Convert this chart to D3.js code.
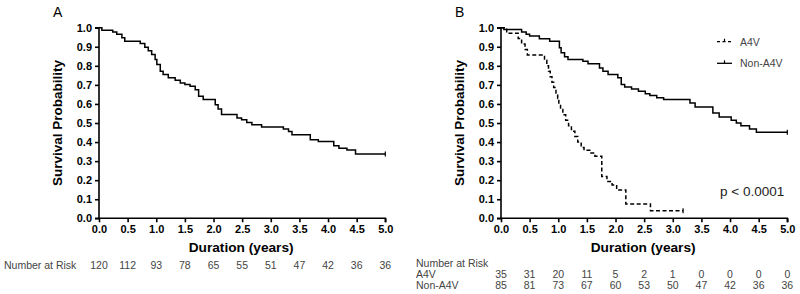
<!DOCTYPE html>
<html>
<head>
<meta charset="utf-8">
<script src="https://cdn.jsdelivr.net/npm/d3@7"></script>
<style>
  body { margin: 0; background: #fff; }
  svg { font-family: Arial, 'Liberation Sans', sans-serif; }
  .axis text { font-size: 11px; font-weight: bold; fill: #000; }
  .axis path, .axis line { stroke: #000; stroke-width: 1.6; }
  .risk { font-size: 10.5px; fill: #444; }
</style>
</head>
<body>
<svg id="chart"></svg>
<script>
const yearTicks = [0, 0.5, 1, 1.5, 2, 2.5, 3, 3.5, 4, 4.5, 5];
const probTicks = [0, 0.1, 0.2, 0.3, 0.4, 0.5, 0.6, 0.7, 0.8, 0.9, 1.0];

// panel A: all patients
const allTimes = [0, 0.05, 0.24, 0.31, 0.40, 0.45, 0.72, 0.80, 0.86, 0.92, 0.98, 1.01, 1.07, 1.12, 1.21, 1.33, 1.42, 1.50, 1.59, 1.68, 1.74, 1.82, 2.03, 2.08, 2.14, 2.41, 2.49, 2.58, 2.67, 2.84, 3.22, 3.31, 3.37, 3.69, 3.83, 4.10, 4.19, 4.33, 4.48, 5.0];
const allSurv = [1, 0.987, 0.977, 0.965, 0.947, 0.929, 0.917, 0.898, 0.879, 0.86, 0.833, 0.807, 0.772, 0.754, 0.737, 0.724, 0.71, 0.702, 0.693, 0.675, 0.64, 0.623, 0.596, 0.574, 0.544, 0.526, 0.517, 0.503, 0.491, 0.479, 0.468, 0.456, 0.438, 0.412, 0.403, 0.38, 0.368, 0.359, 0.338, 0.338];
const allRisk = [120, 112, 93, 78, 65, 55, 51, 47, 42, 36, 36];

// panel B: A4V vs non-A4V
const a4vTimes = [0, 0.10, 0.30, 0.36, 0.42, 0.46, 0.76, 0.80, 0.83, 0.86, 0.89, 0.92, 0.96, 0.99, 1.01, 1.04, 1.08, 1.13, 1.18, 1.23, 1.29, 1.34, 1.40, 1.45, 1.55, 1.64, 1.76, 1.85, 1.94, 2.02, 2.18, 2.61, 3.18];
const a4vSurv = [1, 0.971, 0.943, 0.914, 0.886, 0.857, 0.829, 0.8, 0.771, 0.743, 0.714, 0.686, 0.657, 0.629, 0.6, 0.571, 0.543, 0.514, 0.486, 0.457, 0.429, 0.4, 0.371, 0.357, 0.343, 0.326, 0.219, 0.193, 0.175, 0.148, 0.075, 0.04, 0.04];
const nonTimes = [0, 0.05, 0.36, 0.44, 0.50, 0.67, 0.85, 1.02, 1.05, 1.11, 1.17, 1.43, 1.52, 1.72, 1.78, 1.87, 2.04, 2.10, 2.16, 2.28, 2.40, 2.52, 2.60, 2.72, 2.84, 3.30, 3.39, 3.70, 3.81, 4.02, 4.11, 4.19, 4.34, 4.46, 5.0];
const nonSurv = [1, 0.991, 0.977, 0.965, 0.956, 0.942, 0.929, 0.895, 0.868, 0.847, 0.833, 0.824, 0.811, 0.789, 0.772, 0.754, 0.737, 0.702, 0.689, 0.679, 0.666, 0.654, 0.644, 0.632, 0.623, 0.605, 0.584, 0.553, 0.532, 0.514, 0.5, 0.486, 0.468, 0.451, 0.451];
const a4vRisk = [35, 31, 20, 11, 5, 2, 1, 0, 0, 0, 0];
const nonRisk = [85, 81, 73, 67, 60, 53, 50, 47, 42, 36, 36];

const width = 800;
const height = 294;
const plotTop = 27.7;
const plotBottom = 218.3;

const svg = d3.select('#chart')
  .attr('width', width)
  .attr('height', height);

const y = d3.scaleLinear().domain([0, 1]).range([plotBottom, plotTop]);

const line = (x) => d3.line()
  .x(d => x(d[0]))
  .y(d => y(d[1]))
  .curve(d3.curveStepAfter);

function drawPanel(left, label) {
  const x = d3.scaleLinear().domain([0, 5]).range([left, left + 286.3]);
  const g = svg.append('g');

  g.append('g')
    .attr('class', 'axis')
    .attr('transform', `translate(${left}, 0)`)
    .call(d3.axisLeft(y).tickValues(probTicks).tickFormat(d3.format('.1f')).tickSize(4).tickPadding(3))
    .call(a => a.select('.domain').attr('d', `M-4,${plotBottom}H0V${plotTop}H-4`));

  g.append('g')
    .attr('class', 'axis')
    .attr('transform', `translate(0, ${plotBottom})`)
    .call(d3.axisBottom(x).tickValues(yearTicks).tickFormat(d3.format('.1f')).tickSize(4).tickPadding(3))
    .call(a => a.select('.domain').attr('d', `M${left},0H${left + 286.3}V4`));

  g.append('text')
    .attr('x', left - 46)
    .attr('y', 17)
    .attr('font-size', 14)
    .text(label);

  g.append('text')
    .attr('transform', `translate(${left - 37}, ${(plotTop + plotBottom) / 2}) rotate(-90)`)
    .attr('text-anchor', 'middle')
    .attr('font-size', 13.5)
    .attr('font-weight', 'bold')
    .text('Survival Probability');

  g.append('text')
    .attr('x', x(2.5) - 1)
    .attr('y', 252)
    .attr('text-anchor', 'middle')
    .attr('font-size', 13.7)
    .attr('font-weight', 'bold')
    .text('Duration (years)');

  return { g, x };
}

function drawCurve(p, times, surv, dashed) {
  const pts = times.map((t, i) => [t, surv[i]]);
  p.g.append('path')
    .datum(pts)
    .attr('fill', 'none')
    .attr('stroke', '#000')
    .attr('stroke-width', 1.5)
    .attr('stroke-dasharray', dashed ? '4,2.5' : null)
    .attr('d', line(p.x));
  // censor tick at the end
  const last = pts[pts.length - 1];
  p.g.append('line')
    .attr('x1', p.x(last[0])).attr('x2', p.x(last[0]))
    .attr('y1', y(last[1]) - 2.5).attr('y2', y(last[1]) + 2.5)
    .attr('stroke', '#000').attr('stroke-width', 1.2);
}

function riskRow(p, values, yPos) {
  p.g.selectAll(null)
    .data(values)
    .enter().append('text')
      .attr('class', 'risk')
      .attr('x', (d, i) => p.x(yearTicks[i]))
      .attr('y', yPos)
      .attr('text-anchor', 'middle')
      .text(d => d);
}

// Panel A
const pA = drawPanel(99, 'A');
drawCurve(pA, allTimes, allSurv, false);
pA.g.append('text').attr('class', 'risk').attr('x', 4).attr('y', 268.5).text('Number at Risk');
riskRow(pA, allRisk, 268.5);

// Panel B
const pB = drawPanel(501, 'B');
drawCurve(pB, a4vTimes, a4vSurv, true);
drawCurve(pB, nonTimes, nonSurv, false);
pB.g.append('text').attr('class', 'risk').attr('x', 416).attr('y', 266.5).text('Number at Risk');
pB.g.append('text').attr('class', 'risk').attr('x', 416).attr('y', 277.5).text('A4V');
pB.g.append('text').attr('class', 'risk').attr('x', 416).attr('y', 289).text('Non-A4V');
riskRow(pB, a4vRisk, 277.5);
riskRow(pB, nonRisk, 289);

pB.g.append('text')
  .attr('x', 720)
  .attr('y', 196)
  .attr('font-size', 13.5)
  .attr('fill', '#222')
  .text('p < 0.0001');

// legend
const legend = [
  { name: 'A4V', dashed: true, yPos: 41.7 },
  { name: 'Non-A4V', dashed: false, yPos: 63.3 },
];
const lg = pB.g.selectAll('.legend')
  .data(legend)
  .enter().append('g')
    .attr('class', 'legend')
    .attr('transform', d => `translate(717, ${d.yPos})`);
lg.append('line')
  .attr('x1', 0).attr('x2', 15)
  .attr('stroke', '#000').attr('stroke-width', 1.3)
  .attr('stroke-dasharray', d => d.dashed ? '3,2.5' : null);
lg.append('line')
  .attr('x1', 7.5).attr('x2', 7.5).attr('y1', -3).attr('y2', 0)
  .attr('stroke', '#000').attr('stroke-width', 1.2);
lg.append('text')
  .attr('class', 'risk')
  .attr('x', 23)
  .attr('y', 4)
  .text(d => d.name);
</script>
</body>
</html>
